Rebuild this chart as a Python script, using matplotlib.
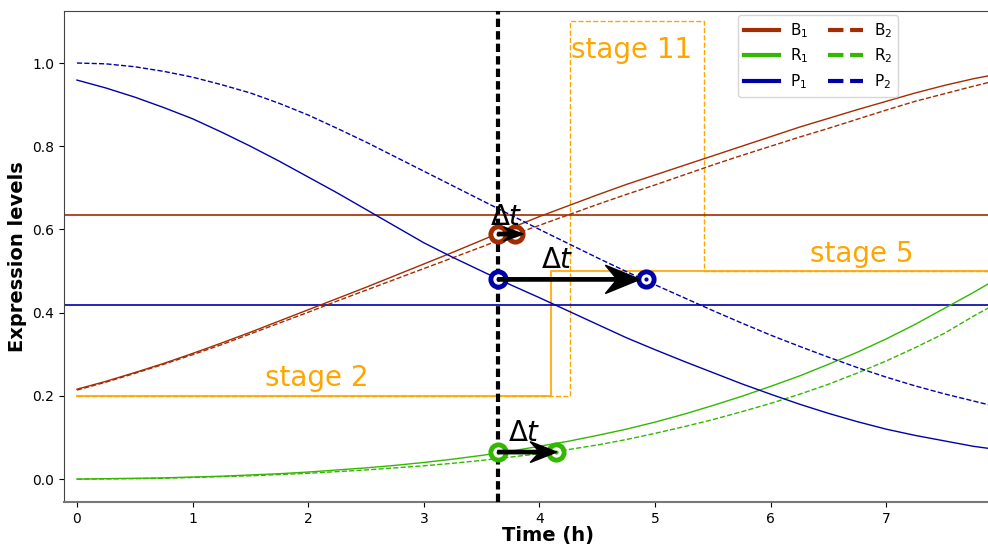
import matplotlib.pyplot as plt
from matplotlib.lines import Line2D

# values
t = [0.0, 0.25, 0.5, 0.75, 1.0, 1.25, 1.5, 1.75, 2.0, 2.25, 2.5, 2.75, 3.0, 3.25, 3.5, 3.75,
     4.0, 4.25, 4.5, 4.75, 5.0, 5.25, 5.5, 5.75, 6.0, 6.25, 6.5, 6.75, 7.0, 7.25, 7.5, 7.75, 7.88]
b1 = [0.216, 0.235, 0.256, 0.278, 0.302, 0.327, 0.353, 0.380, 0.407, 0.434, 0.461, 0.489, 0.517, 0.545,
      0.574, 0.603, 0.631, 0.657, 0.683, 0.708, 0.731, 0.754, 0.777, 0.800, 0.823, 0.846, 0.867, 0.888,
      0.908, 0.928, 0.946, 0.962, 0.969]
b2 = [0.214, 0.233, 0.254, 0.276, 0.299, 0.323, 0.349, 0.375, 0.401, 0.428, 0.454, 0.480, 0.506, 0.532,
      0.558, 0.585, 0.610, 0.635, 0.660, 0.684, 0.707, 0.731, 0.755, 0.778, 0.800, 0.822, 0.843, 0.865,
      0.887, 0.908, 0.926, 0.944, 0.953]
r1 = [0.0, 0.001, 0.002, 0.003, 0.005, 0.007, 0.010, 0.013, 0.017, 0.022, 0.027, 0.033, 0.040, 0.048,
      0.057, 0.067, 0.079, 0.091, 0.105, 0.120, 0.137, 0.156, 0.177, 0.199, 0.223, 0.248, 0.276, 0.305,
      0.337, 0.372, 0.410, 0.448, 0.469]
r2 = [0.0, 0.0005, 0.001, 0.002, 0.004, 0.006, 0.008, 0.011, 0.014, 0.018, 0.022, 0.027, 0.032, 0.038,
      0.045, 0.053, 0.061, 0.071, 0.082, 0.095, 0.110, 0.126, 0.143, 0.162, 0.182, 0.204, 0.228, 0.255,
      0.284, 0.316, 0.350, 0.391, 0.411]
p1 = [0.959, 0.940, 0.918, 0.893, 0.866, 0.834, 0.800, 0.764, 0.726, 0.688, 0.648, 0.608, 0.568, 0.533,
      0.500, 0.467, 0.436, 0.404, 0.372, 0.340, 0.311, 0.283, 0.256, 0.229, 0.204, 0.180, 0.158, 0.138,
      0.120, 0.105, 0.092, 0.079, 0.074]
p2 = [1.000, 0.998, 0.991, 0.980, 0.966, 0.948, 0.928, 0.903, 0.875, 0.843, 0.810, 0.775, 0.740, 0.705,
      0.670, 0.635, 0.600, 0.566, 0.532, 0.499, 0.467, 0.436, 0.405, 0.375, 0.346, 0.319, 0.293, 0.268,
      0.245, 0.224, 0.205, 0.188, 0.179]

b_level = 0.635
p_level = 0.418

t_now = 3.64
t_shift = {'B': 3.79, 'R': 4.14, 'P': 4.92}
level_now = {'B': 0.589, 'R': 0.065, 'P': 0.48}

stage_solid_t = [0.0, 4.10, 4.10, 8.3]
stage_solid_y = [0.2, 0.2, 0.5, 0.5]
stage_dash_t = [0.0, 4.26, 4.26, 5.42, 5.42, 8.3]
stage_dash_y = [0.2, 0.2, 1.1, 1.1, 0.5, 0.5]

C_B = '#a32c00'
C_R = '#33b800'
C_P = '#0000a8'
ORANGE = '#ffa500'
colors = {'B': C_B, 'R': C_R, 'P': C_P}

fig = plt.figure(figsize=(9.88, 5.45), dpi=100)
ax = fig.add_axes([64 / 988, 43 / 545, 968 / 988, 491 / 545])

ax.plot(stage_solid_t, stage_solid_y, color=ORANGE, lw=1.5, alpha=0.85)
ax.plot(stage_dash_t, stage_dash_y, color=ORANGE, lw=1, ls='--')

ax.axhline(b_level, color=C_B, lw=1.2)
ax.axhline(p_level, color=C_P, lw=1.2)

ax.plot(t, b1, color=C_B, lw=1)
ax.plot(t, b2, color=C_B, lw=1, ls='--')
ax.plot(t, r1, color=C_R, lw=1)
ax.plot(t, r2, color=C_R, lw=1, ls='--')
ax.plot(t, p1, color=C_P, lw=1)
ax.plot(t, p2, color=C_P, lw=1, ls='--')

ax.axvline(t_now, color='k', lw=3, ls=(0, (2, 1)), zorder=3)

for k in ['B', 'R', 'P']:
    xs = [t_now, t_shift[k]]
    ys = [level_now[k], level_now[k]]
    ax.plot(xs, ys, 'o', ms=11, mfc='white', mec=colors[k], mew=3.5, ls='none', zorder=4)
    ax.plot(xs, ys, '.', ms=4, color=colors[k], ls='none', zorder=5)

# arrows: (start, tip, head length, head width)
arrows = {'B': (3.64, 3.86, 0.17, 0.034), 'R': (3.64, 4.15, 0.23, 0.05), 'P': (3.64, 4.87, 0.3, 0.068)}
for k, (x0, x1, hl, hw) in arrows.items():
    ax.arrow(x0, level_now[k], x1 - x0, 0, width=0.008, head_width=hw, head_length=hl,
             overhang=0.3, length_includes_head=True, color='k', zorder=6)

ax.text(3.57, 0.611, r'$\Delta t$', fontsize=20, zorder=7)
ax.text(3.73, 0.091, r'$\Delta t$', fontsize=20, zorder=7)
ax.text(4.01, 0.507, r'$\Delta t$', fontsize=20, zorder=7)

ax.text(1.63, 0.224, 'stage 2', fontsize=20, color=ORANGE)
ax.text(6.34, 0.522, 'stage 5', fontsize=20, color=ORANGE)
ax.text(4.27, 1.012, 'stage 11', fontsize=20, color=ORANGE)

ax.set_xlim(-0.112, 8.26)
ax.set_ylim(-0.055, 1.125)
ax.set_xticks(range(8))
ax.set_yticks([0.0, 0.2, 0.4, 0.6, 0.8, 1.0])
ax.tick_params(labelsize=10)
for s in ax.spines.values():
    s.set_color('#444444')
ax.spines['bottom'].set_color('#777777')
ax.spines['bottom'].set_linewidth(1.5)

ax.set_xlabel('Time (h)', fontsize=14, fontweight='bold', labelpad=0)
ax.set_ylabel('Expression levels', fontsize=14, fontweight='bold')

handles = [
    Line2D([], [], color=C_B, lw=3), Line2D([], [], color=C_R, lw=3), Line2D([], [], color=C_P, lw=3),
    Line2D([], [], color=C_B, lw=3, ls='--'), Line2D([], [], color=C_R, lw=3, ls='--'),
    Line2D([], [], color=C_P, lw=3, ls='--'),
]
labels = ['B$_1$', 'R$_1$', 'P$_1$', 'B$_2$', 'R$_2$', 'P$_2$']
ax.legend(handles, labels, ncol=2, loc='upper left', bbox_to_anchor=(0.696, 0.992),
          borderaxespad=0, fontsize=11, labelspacing=0.45, handlelength=2.3,
          columnspacing=1.3, handletextpad=0.7)

fig.savefig('out.png', dpi=100)
